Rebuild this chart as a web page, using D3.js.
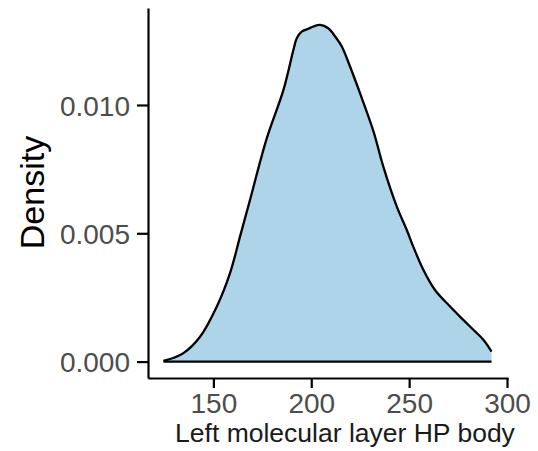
<!DOCTYPE html>
<html>
<head>
<meta charset="utf-8">
<script src="https://cdn.jsdelivr.net/npm/d3@7"></script>
<style>
  html, body { margin: 0; padding: 0; background: #fff; }
  svg { display: block; font-family: Arial, "Liberation Sans", Helvetica, sans-serif; }
</style>
</head>
<body>
<svg id="chart" width="538" height="451"></svg>
<script>
// ---- data ----
const hpBody = [124.5, 129.5, 134.7, 143.2, 151.7, 158.5, 163.6, 168.7, 177.3, 185.8, 190.9, 192.6, 195.1, 198.5, 201.1, 204.5, 208.7, 212.2, 215.6, 219.8, 224.9, 231.7, 236.8, 243.7, 248.8, 252.1, 257.3, 263.2, 269.2, 276.0, 282.8, 287.9, 292.1];
const density = [0.00003, 0.00014, 0.00033, 0.00097, 0.00214, 0.00345, 0.00487, 0.00630, 0.00871, 0.01059, 0.01215, 0.01260, 0.01286, 0.01297, 0.01306, 0.01312, 0.01299, 0.01267, 0.01228, 0.01150, 0.01046, 0.00899, 0.00760, 0.00604, 0.00513, 0.00448, 0.00357, 0.00279, 0.00228, 0.00175, 0.00124, 0.00085, 0.00039];
const xTicks = [150, 200, 250, 300];
const yTicks = [0, 0.005, 0.010];
const xTitle = "Left molecular layer HP body";
const yTitle = "Density";

const pts = hpBody.map((v, i) => ({x: v, y: density[i]}));

const svg = d3.select("#chart");
const x = d3.scaleLinear().domain([116.6, 300.5]).range([148, 508]);
const y = d3.scaleLinear().domain([-0.00064, 0.01378]).range([378, 8]);

// area fill
const area = d3.area()
  .x(d => x(d.x)).y0(y(0)).y1(d => y(d.y))
  .curve(d3.curveCatmullRom.alpha(0.5));
svg.append("path").datum(pts)
  .attr("d", area)
  .attr("fill", "#ADD4E8")
  .attr("stroke", "none");

// upper outline
const line = d3.line().x(d => x(d.x)).y(d => y(d.y)).curve(d3.curveCatmullRom.alpha(0.5));
svg.append("path").datum(pts)
  .attr("d", line)
  .attr("fill", "none")
  .attr("stroke", "#000")
  .attr("stroke-width", 2.3)
  .attr("stroke-linejoin", "round");

// lower outline
svg.append("line")
  .attr("x1", x(hpBody[0])).attr("x2", x(hpBody[hpBody.length - 1]))
  .attr("y1", y(0)).attr("y2", y(0))
  .attr("stroke", "#000").attr("stroke-width", 2.3);

// axes
const xAxis = d3.axisBottom(x).tickValues(xTicks).tickFormat(d3.format("d"))
  .tickSize(10).tickSizeOuter(0).tickPadding(6);
const gx = svg.append("g").attr("transform", "translate(0,378)").call(xAxis);
gx.select(".domain").attr("stroke", "#000").attr("stroke-width", 2.2);
gx.selectAll(".tick line").attr("stroke", "#000").attr("stroke-width", 2.2);
gx.selectAll(".tick text").attr("fill", "#4D4D4D").style("font-size", "28px")
  .attr("y", 15).attr("dy", "0.72em");

const yAxis = d3.axisLeft(y).tickValues(yTicks).tickFormat(d3.format(".3f"))
  .tickSize(11).tickSizeOuter(0).tickPadding(7);
const gy = svg.append("g").attr("transform", "translate(148,0)").call(yAxis);
gy.select(".domain").attr("stroke", "#000").attr("stroke-width", 2.2);
gy.selectAll(".tick line").attr("stroke", "#000").attr("stroke-width", 2.2);
gy.selectAll(".tick text").attr("fill", "#4D4D4D").style("font-size", "28px")
  .attr("dy", "0.36em");

// titles
svg.append("text")
  .attr("x", 345).attr("y", 442)
  .attr("text-anchor", "middle")
  .attr("fill", "#1A1A1A")
  .style("font-size", "26.5px")
  .text(xTitle);

svg.append("text")
  .attr("transform", "translate(43.5,192.5) rotate(-90)")
  .attr("text-anchor", "middle")
  .attr("fill", "#000")
  .style("font-size", "34px")
  .text(yTitle);
</script>
</body>
</html>
